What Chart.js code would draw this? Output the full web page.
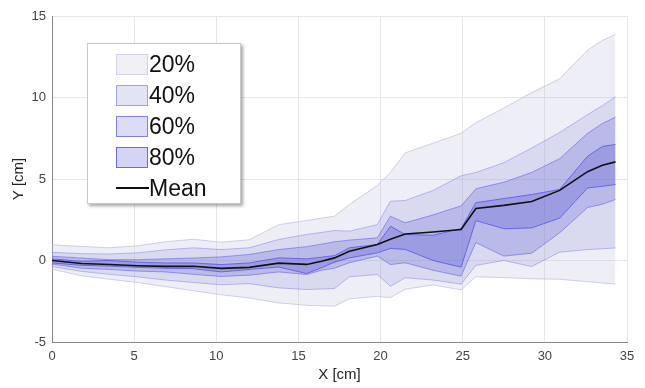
<!DOCTYPE html>
<html>
<head>
<meta charset="utf-8">
<script src="https://cdn.jsdelivr.net/npm/chart.js@4.4.0/dist/chart.umd.min.js"></script>
<style>
  body { margin: 0; background: #fff; }
  #wrap { position: relative; width: 645px; height: 388px; }
  #legend {
    position: absolute; left: 87px; top: 43px; width: 154px; height: 161px;
    box-sizing: border-box; background: #fff; border: 1px solid #c8c8c8;
    box-shadow: 2px 2px 3px rgba(0,0,0,0.35);
    font-family: "Liberation Sans", Arial, sans-serif; font-size: 23px; color: #111;
  }
  .row { position: absolute; left: 28px; height: 22px; display: flex; align-items: center; }
  .sw { width: 32px; height: 21px; box-sizing: border-box; border: 1px solid; margin-right: 1px; }
  .ln { width: 33px; height: 0; border-top: 2px solid #111; margin-right: 0; }
</style>
</head>
<body>
<div id="wrap">
  <canvas id="c"></canvas>
  <div id="legend">
    <div class="row" style="top:9px"><span class="sw" style="background:#efeff5;border-color:#d3d3e6"></span>20%</div>
    <div class="row" style="top:40px"><span class="sw" style="background:#e3e3f6;border-color:#a0a0ee"></span>40%</div>
    <div class="row" style="top:71px"><span class="sw" style="background:#dcdcf6;border-color:#8080e8"></span>60%</div>
    <div class="row" style="top:102px"><span class="sw" style="background:#d4d4f6;border-color:#6a6ae6"></span>80%</div>
    <div class="row" style="top:133px"><span class="ln"></span>Mean</div>
  </div>
</div>
<script>
// x positions along the track [cm]
const xs = [0, 1.8, 3.5, 5.2, 6.9, 8.6, 10.3, 12.0, 13.8, 15.5, 16.4, 17.2, 18.1, 19.8, 20.6, 21.5, 23.2, 24.9, 25.8, 27.5, 29.2, 30.9, 32.6, 33.5, 34.3]

const meanY = [0, -0.18, -0.25, -0.32, -0.36, -0.35, -0.48, -0.42, -0.16, -0.24, -0.05, 0.16, 0.57, 0.98, 1.3, 1.63, 1.75, 1.9, 3.19, 3.38, 3.62, 4.3, 5.45, 5.85, 6.05]

// band edges, outer (20%) to inner (80%)
const hi20 = [0.96, 0.86, 0.78, 0.9, 1.15, 1.3, 1.12, 1.27, 2.2, 2.45, 2.6, 2.72, 3.44, 4.6, 5.4, 6.6, 7.2, 7.8, 8.45, 9.35, 10.3, 11.15, 12.9, 13.5, 13.87]
const lo20 = [-0.53, -0.94, -1.15, -1.35, -1.6, -1.85, -2.1, -2.3, -2.6, -2.75, -2.78, -2.8, -2.35, -2.2, -2.27, -1.76, -1.5, -1.8, -1.0, -1.05, -1.12, -1.15, -1.3, -1.38, -1.45]
const hi40 = [0.5, 0.42, 0.4, 0.47, 0.65, 0.78, 0.67, 0.78, 1.29, 1.6, 1.72, 1.84, 1.8, 2.2, 3.64, 3.68, 4.3, 5.2, 5.4, 6.0, 6.9, 7.85, 8.95, 9.5, 10.05]
const lo40 = [-0.37, -0.67, -0.85, -1.0, -1.2, -1.35, -1.49, -1.42, -1.68, -1.78, -1.75, -1.72, -1.0, -0.86, -1.58, -1.06, -1.2, -1.45, -0.3, 0.0, -0.37, 0.51, 0.67, 0.72, 0.77]
const hi60 = [0.26, 0.15, 0.05, 0.05, 0.1, 0.15, 0.22, 0.37, 0.67, 0.85, 1.0, 1.15, 1.25, 1.39, 2.72, 2.31, 2.8, 3.35, 4.4, 4.8, 5.4, 6.25, 7.8, 8.4, 8.8]
const lo60 = [-0.22, -0.47, -0.55, -0.65, -0.7, -0.85, -0.98, -0.9, -0.7, -0.86, -0.6, -0.47, -0.14, 0.27, -0.25, -0.14, -0.6, -0.96, 1.1, 0.27, 0.45, 1.7, 3.25, 3.45, 3.74]
const hi80 = [0.1, -0.05, 0.0, -0.1, -0.15, -0.15, -0.25, -0.15, 0.16, 0.1, 0.2, 0.3, 0.78, 0.98, 2.1, 1.6, 1.55, 1.96, 3.55, 3.8, 4.05, 4.36, 6.4, 7.0, 7.12]
const lo80 = [-0.15, -0.3, -0.35, -0.42, -0.48, -0.5, -0.7, -0.55, -0.4, -0.8, -0.45, -0.1, 0.16, 0.47, 0.74, 0.68, 0.0, -0.41, 2.45, 1.95, 2.0, 2.6, 4.45, 4.55, 4.66]

const xTicks = [0, 5, 10, 15, 20, 25, 30, 35]
const yTicks = [-5, 0, 5, 10, 15]

const pts = (ys) => xs.map((x, i) => ({ x, y: ys[i] }))

function edge(ys, line, fillColor) {
  const ds = {
    data: pts(ys),
    borderColor: line,
    borderWidth: 1,
    pointRadius: 0,
    tension: 0,
    fill: false
  }
  if (fillColor) {
    ds.fill = "-1"
    ds.backgroundColor = fillColor
  }
  return ds
}

const font = "'Liberation Sans', Arial, sans-serif"

new Chart(document.getElementById("c").getContext("2d"), {
  type: "line",
  data: {
    datasets: [
      { data: pts(meanY), borderColor: "#111", borderWidth: 1.6, pointRadius: 0, tension: 0, fill: false },
      edge(hi80, "rgba(80,80,230,0.75)"),
      edge(lo80, "rgba(80,80,230,0.75)", "rgba(100,100,215,0.35)"),
      edge(hi60, "rgba(100,100,230,0.6)"),
      edge(lo60, "rgba(100,100,230,0.6)", "rgba(120,120,220,0.33)"),
      edge(hi40, "rgba(130,130,230,0.5)"),
      edge(lo40, "rgba(130,130,230,0.5)", "rgba(160,160,220,0.28)"),
      edge(hi20, "rgba(195,195,225,0.8)"),
      edge(lo20, "rgba(195,195,225,0.8)", "rgba(200,200,225,0.3)")
    ]
  },
  options: {
    responsive: true,
    maintainAspectRatio: false,
    animation: false,
    layout: { padding: { top: 16, right: 18, left: 0, bottom: 0 } },
    plugins: { legend: { display: false }, tooltip: { enabled: false } },
    scales: {
      x: {
        type: "linear",
        min: 0,
        max: 35,
        afterBuildTicks: (s) => { s.ticks = xTicks.map((v) => ({ value: v })) },
        afterFit: (s) => { s.height = 46 },
        ticks: { color: "#444", font: { family: font, size: 13 }, padding: 7 },
        grid: { color: "#e6e6e6", drawTicks: false },
        border: { color: "#888" },
        title: { display: true, text: "X [cm]", color: "#222", font: { family: font, size: 15 }, padding: { top: 4 } }
      },
      y: {
        min: -5,
        max: 15,
        afterBuildTicks: (s) => { s.ticks = yTicks.map((v) => ({ value: v })) },
        afterFit: (s) => { s.width = 52 },
        ticks: { color: "#444", font: { family: font, size: 13 }, padding: 6 },
        grid: { color: "#e6e6e6", drawTicks: false },
        border: { color: "#888" },
        title: { display: true, text: "Y [cm]", color: "#222", font: { family: font, size: 15 }, padding: { top: 10, bottom: 0 } }
      }
    }
  }
})
</script>
</body>
</html>
